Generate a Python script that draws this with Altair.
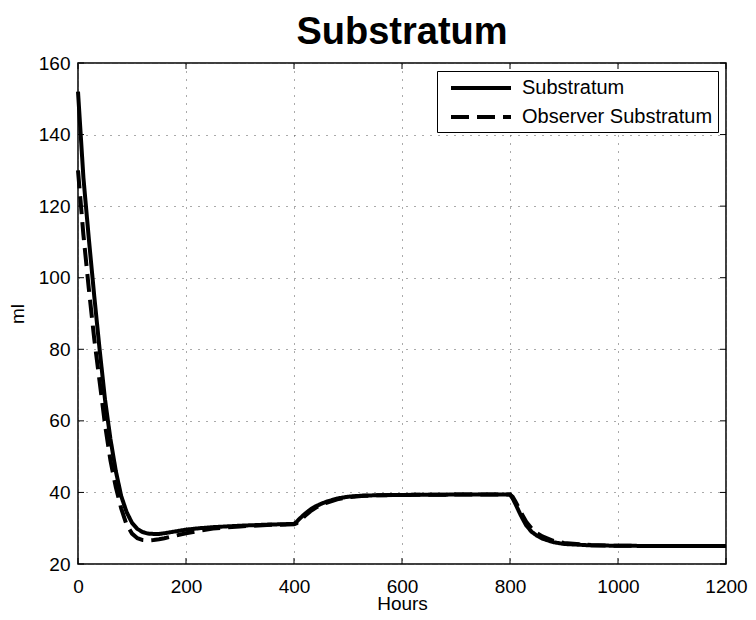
import altair as alt
import pandas as pd

hours = [0, 10, 20, 30, 40, 50, 60, 70, 80, 90, 100, 110, 120, 130, 140, 150, 160, 180, 200,
         225, 250, 300, 350, 400, 405, 410, 420, 430, 440, 450, 460, 480, 500, 525, 550, 600,
         700, 800, 805, 810, 820, 830, 840, 850, 860, 880, 900, 950, 1000, 1100, 1200]
substratum = [152, 128, 111, 95, 80, 66, 55, 46, 39, 34.5, 31.5, 29.8, 28.9, 28.5, 28.4, 28.4,
              28.6, 29.1, 29.6, 30.0, 30.3, 30.7, 31.0, 31.2, 31.8, 32.6, 34.0, 35.2, 36.1, 36.8,
              37.4, 38.3, 38.8, 39.1, 39.2, 39.3, 39.4, 39.4, 38.3, 36.8, 33.6, 30.8, 29.0, 27.9,
              27.1, 26.1, 25.6, 25.2, 25.1, 25.0, 25.0]
observer = [130, 112, 97, 83, 71, 59, 49, 41.5, 35.5, 31, 28.5, 27.2, 26.7, 26.6, 26.7, 26.9,
            27.2, 27.9, 28.6, 29.3, 29.9, 30.5, 30.9, 31.1, 31.4, 32.0, 33.4, 34.7, 35.7, 36.5,
            37.1, 38.1, 38.7, 39.0, 39.2, 39.3, 39.4, 39.4, 38.8, 37.5, 34.5, 31.8, 29.9, 28.6,
            27.7, 26.5, 25.9, 25.3, 25.1, 25.0, 25.0]
series_names = ["Substratum", "Observer Substratum"]
x_ticks = [0, 200, 400, 600, 800, 1000, 1200]
y_ticks = [20, 40, 60, 80, 100, 120, 140, 160]

rows = []
for h, s, o in zip(hours, substratum, observer):
    rows.append({"Hours": h, "ml": s, "series": series_names[0]})
    rows.append({"Hours": h, "ml": o, "series": series_names[1]})
df = pd.DataFrame(rows)

W, H = 648, 501
FONT = "Liberation Sans"
xscale = alt.Scale(domain=[0, 1200], nice=False, zero=False)
yscale = alt.Scale(domain=[20, 160], nice=False, zero=False)
xaxis = alt.Axis(values=x_ticks, title="Hours", ticks=False, labelPadding=13, format="d",
                 labelFlush=False, titleBaseline="alphabetic", titleY=45, grid=True)
yaxis = alt.Axis(values=y_ticks, title="ml", ticks=False, labelPadding=8, format="d",
                 labelFlush=False, titlePadding=11, grid=True)

lines = alt.Chart(df).mark_line(strokeWidth=4, color="black", strokeCap="butt").encode(
    x=alt.X("Hours:Q", scale=xscale, axis=xaxis),
    y=alt.Y("ml:Q", scale=yscale, axis=yaxis),
    strokeDash=alt.StrokeDash(
        "series:N",
        scale=alt.Scale(domain=series_names, range=[[1, 0], [18, 8]]),
        sort=series_names,
        legend=alt.Legend(title=None, orient="top-right", offset=8, fillColor="white",
                          strokeColor="black", padding=5, symbolType="M-0.3,0H5.7",
                          symbolSize=400, symbolStrokeWidth=4, symbolStrokeColor="black",
                          labelFontSize=20, labelFont=FONT, labelColor="black",
                          labelOffset=56, rowPadding=7, labelLimit=400),
    ),
)

xt = pd.DataFrame({"Hours": x_ticks})
yt = pd.DataFrame({"ml": y_ticks})
tick_len = 6
xb = alt.Chart(xt).mark_rule(color="black", strokeWidth=1).encode(
    x=alt.X("Hours:Q", scale=xscale, axis=xaxis), y=alt.value(H), y2=alt.value(H - tick_len))
xtp = alt.Chart(xt).mark_rule(color="black", strokeWidth=1).encode(
    x=alt.X("Hours:Q", scale=xscale, axis=xaxis), y=alt.value(0), y2=alt.value(tick_len))
yl = alt.Chart(yt).mark_rule(color="black", strokeWidth=1).encode(
    y=alt.Y("ml:Q", scale=yscale, axis=yaxis), x=alt.value(0), x2=alt.value(tick_len))
yr = alt.Chart(yt).mark_rule(color="black", strokeWidth=1).encode(
    y=alt.Y("ml:Q", scale=yscale, axis=yaxis), x=alt.value(W), x2=alt.value(W - tick_len))

chart = alt.layer(lines, xb, xtp, yl, yr).properties(
    width=W, height=H,
    title=alt.TitleParams("Substratum", fontSize=38, fontWeight="bold", font=FONT,
                          color="black", offset=2),
    autosize=alt.AutoSizeParams(type="none"),
    padding={"left": 70, "top": 55, "right": 22, "bottom": 48},
).configure_view(stroke="black", strokeWidth=1.5).configure_axis(
    labelFont=FONT, labelFontSize=19, labelColor="black",
    titleFont=FONT, titleFontSize=19, titleColor="black", titleFontWeight="normal",
    domain=False, gridColor="#555", gridDash=[1, 7], gridWidth=1, gridOpacity=1,
)

chart.save("out.html", embed_options={"renderer": "svg", "actions": False})
